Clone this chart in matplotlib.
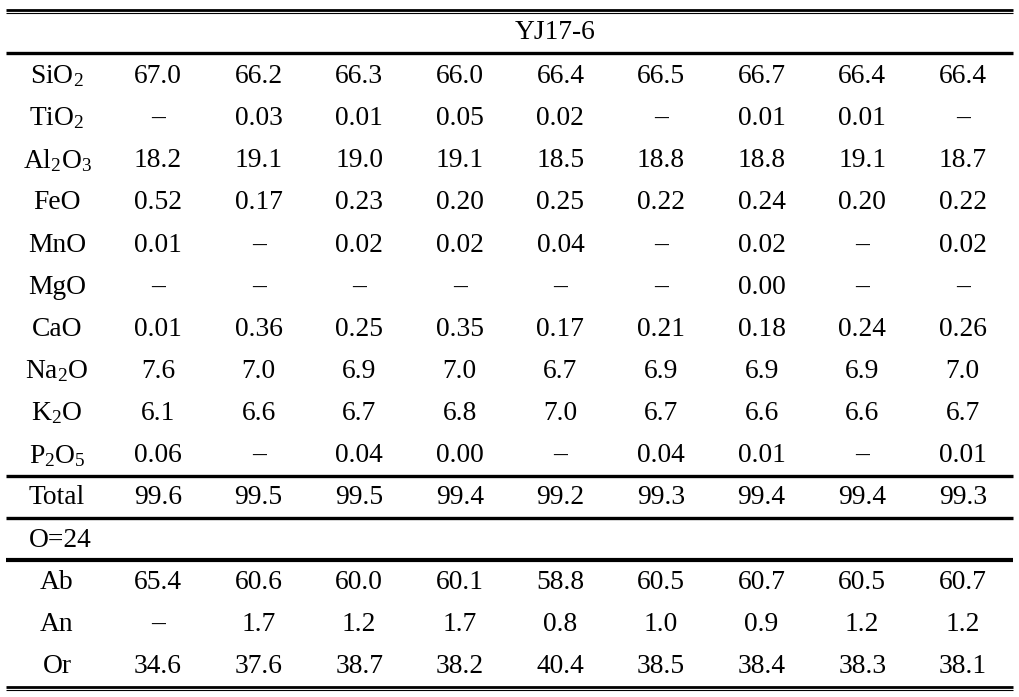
import matplotlib
matplotlib.use("Agg")
import matplotlib.pyplot as plt

plt.rcParams['font.family'] = ['Liberation Serif', 'DejaVu Serif']
plt.rcParams['mathtext.fontset'] = 'custom'
plt.rcParams['mathtext.rm'] = 'Liberation Serif'
plt.rcParams['mathtext.it'] = 'Liberation Serif:italic'

sample = "YJ17-6"
oxides = [r"SiO$\mathregular{_2}$", r"TiO$\mathregular{_2}$", r"Al$\mathregular{_2}$O$\mathregular{_3}$",
          "FeO", "MnO", "MgO", "CaO", r"Na$\mathregular{_2}$O", r"K$\mathregular{_2}$O",
          r"P$\mathregular{_2}$O$\mathregular{_5}$"]
D = "–"
SiO2 = ["67.0", "66.2", "66.3", "66.0", "66.4", "66.5", "66.7", "66.4", "66.4"]
TiO2 = [D, "0.03", "0.01", "0.05", "0.02", D, "0.01", "0.01", D]
Al2O3 = ["18.2", "19.1", "19.0", "19.1", "18.5", "18.8", "18.8", "19.1", "18.7"]
FeO = ["0.52", "0.17", "0.23", "0.20", "0.25", "0.22", "0.24", "0.20", "0.22"]
MnO = ["0.01", D, "0.02", "0.02", "0.04", D, "0.02", D, "0.02"]
MgO = [D, D, D, D, D, D, "0.00", D, D]
CaO = ["0.01", "0.36", "0.25", "0.35", "0.17", "0.21", "0.18", "0.24", "0.26"]
Na2O = ["7.6", "7.0", "6.9", "7.0", "6.7", "6.9", "6.9", "6.9", "7.0"]
K2O = ["6.1", "6.6", "6.7", "6.8", "7.0", "6.7", "6.6", "6.6", "6.7"]
P2O5 = ["0.06", D, "0.04", "0.00", D, "0.04", "0.01", D, "0.01"]
Total = ["99.6", "99.5", "99.5", "99.4", "99.2", "99.3", "99.4", "99.4", "99.3"]
basis = "O=24"
end_labels = ["Ab", "An", "Or"]
Ab = ["65.4", "60.6", "60.0", "60.1", "58.8", "60.5", "60.7", "60.5", "60.7"]
An = [D, "1.7", "1.2", "1.7", "0.8", "1.0", "0.9", "1.2", "1.2"]
Or = ["34.6", "37.6", "38.7", "38.2", "40.4", "38.5", "38.4", "38.3", "38.1"]

W, H = 1020, 697
fig = plt.figure(figsize=(W / 100, H / 100), dpi=100)
ax = fig.add_axes([0, 0, 1, 1])
ax.set_xlim(0, W)
ax.set_ylim(H, 0)
ax.axis('off')

fs = 19.8
x_lab = 57
x0, dx = 158, 100.6
xl, xr = 6, 1013
row0, dy = 76.5, 42.14

def put_row(i, label, vals):
    y = row0 + i * dy
    ax.text(x_lab, y, label, ha='center', va='center', fontsize=fs)
    for j, v in enumerate(vals):
        ax.text(x0 + j * dx, y, v, ha='center', va='center', fontsize=fs)

ax.text(555, 32.5, sample, ha='center', va='center', fontsize=fs)

rows = [SiO2, TiO2, Al2O3, FeO, MnO, MgO, CaO, Na2O, K2O, P2O5]
for i, (lab, vals) in enumerate(zip(oxides, rows)):
    put_row(i, lab, vals)
put_row(10, "Total", Total)
ax.text(29, row0 + 11 * dy, basis, ha='left', va='center', fontsize=fs)
for k, (lab, vals) in enumerate(zip(end_labels, [Ab, An, Or])):
    put_row(12 + k, lab, vals)

def hline(y, lw):
    ax.plot([xl, xr], [y, y], color='black', lw=lw, solid_capstyle='butt')

hline(9.5, 2.0)
hline(12.8, 0.8)
hline(52.5, 2.4)
hline(475.5, 2.4)
hline(517.5, 2.4)
hline(560, 3.0)
hline(686.5, 2.0)
hline(690, 0.8)

fig.savefig("out.png", dpi=100)
